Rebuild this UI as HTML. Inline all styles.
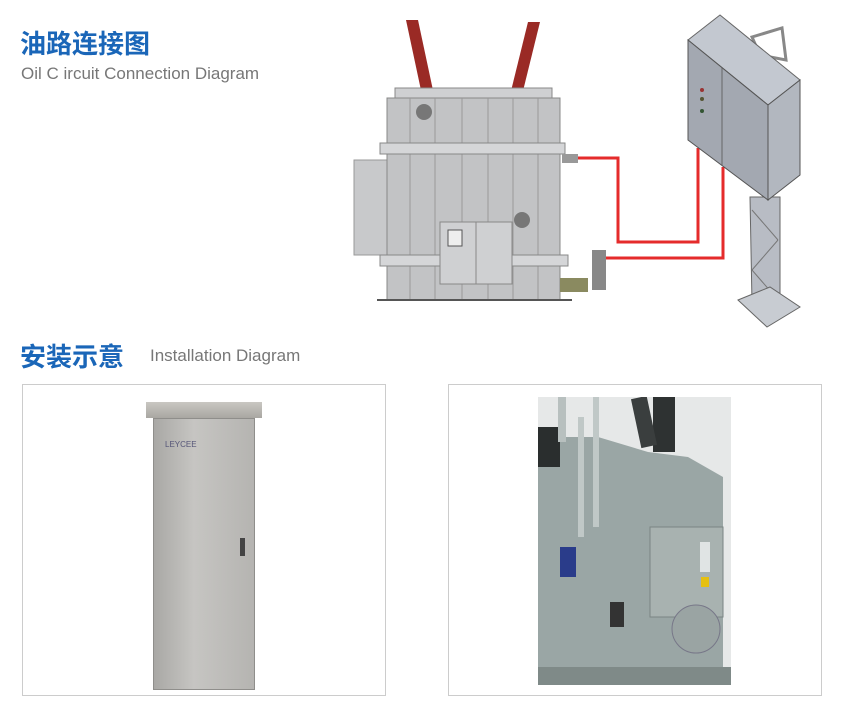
<!DOCTYPE html>
<html><head><meta charset="utf-8"><style>
body{margin:0;width:850px;height:717px;background:#fff;position:relative;overflow:hidden;font-family:"Liberation Sans","Noto Sans CJK SC",sans-serif}
.a{position:absolute}
</style></head><body>
<div class="a" style="left:20px;top:24px;font-size:26px;font-weight:bold;color:#1a66b8">油路连接图</div>
<div class="a" style="left:21px;top:64px;font-size:17px;color:#777">Oil C ircuit Connection Diagram</div>
<div class="a" style="left:20px;top:337px;font-size:26px;font-weight:bold;color:#1a66b8">安装示意</div>
<div class="a" style="left:150px;top:346px;font-size:17px;color:#777">Installation Diagram</div>

<svg class="a" style="left:0;top:0" width="850" height="380">
 <polygon points="406,20 418,20 434,95 422,95" fill="#9a2a25"/>
 <polygon points="528,22 540,22 522,95 510,95" fill="#9a2a25"/>
 <rect x="354" y="160" width="34" height="95" fill="#c8c9cb" stroke="#999"/>
 <rect x="395" y="88" width="157" height="12" fill="#cfd0d2" stroke="#888"/>
 <rect x="387" y="98" width="173" height="202" fill="#c2c3c5" stroke="#888"/>
 <g stroke="#999"><line x1="410" y1="98" x2="410" y2="300"/><line x1="435" y1="98" x2="435" y2="300"/><line x1="462" y1="98" x2="462" y2="300"/><line x1="488" y1="98" x2="488" y2="300"/><line x1="513" y1="98" x2="513" y2="300"/><line x1="538" y1="98" x2="538" y2="300"/></g>
 <rect x="380" y="143" width="185" height="11" fill="#d5d6d8" stroke="#888"/>
 <rect x="380" y="255" width="188" height="11" fill="#d5d6d8" stroke="#888"/>
 <rect x="440" y="222" width="72" height="62" fill="#cfd0d2" stroke="#888"/>
 <line x1="476" y1="222" x2="476" y2="284" stroke="#888"/>
 <rect x="448" y="230" width="14" height="16" fill="#eee" stroke="#555"/>
 <circle cx="424" cy="112" r="8" fill="#777"/><circle cx="522" cy="220" r="8" fill="#777"/>
 <line x1="377" y1="300" x2="572" y2="300" stroke="#555" stroke-width="2"/>
 <rect x="562" y="154" width="16" height="9" fill="#999"/>
 <rect x="560" y="278" width="28" height="14" fill="#8a8a60"/>
 <rect x="592" y="250" width="14" height="40" fill="#888"/>
 <polyline points="578,158 618,158 618,242 698,242 698,148" fill="none" stroke="#e52b2b" stroke-width="3"/>
 <polyline points="606,258 723,258 723,167" fill="none" stroke="#e52b2b" stroke-width="3"/>
 <polygon points="752,37 782,28 786,60 760,55" fill="none" stroke="#888" stroke-width="3"/>
 <polygon points="750,197 780,197 780,303 752,303" fill="#b8bcc4" stroke="#666"/>
 <g stroke="#777"><line x1="752" y1="210" x2="778" y2="240"/><line x1="778" y1="240" x2="752" y2="270"/><line x1="752" y1="270" x2="778" y2="300"/></g>
 <polygon points="738,300 770,287 800,307 767,327" fill="#c8ccd2" stroke="#666"/>
 <polygon points="688,40 720,15 800,80 768,105" fill="#c3c8d0" stroke="#666"/>
 <polygon points="688,40 768,105 768,200 688,140" fill="#a3a8b1" stroke="#555"/>
 <line x1="722" y1="68" x2="722" y2="165" stroke="#666"/>
 <polygon points="768,105 800,80 800,175 768,200" fill="#b2b7bf" stroke="#555"/>
 <circle cx="702" cy="90" r="2" fill="#933"/><circle cx="702" cy="99" r="2" fill="#553"/><circle cx="702" cy="111" r="2" fill="#353"/>
</svg>

<div class="a" style="left:22px;top:384px;width:364px;height:312px;border:1px solid #ccc;box-sizing:border-box"></div>
<div class="a" style="left:448px;top:384px;width:374px;height:312px;border:1px solid #ccc;box-sizing:border-box"></div>
<div class="a" style="left:146px;top:402px;width:116px;height:16px;background:linear-gradient(#c9c7c2,#a9a7a2)"></div>
<div class="a" style="left:153px;top:418px;width:102px;height:272px;background:linear-gradient(90deg,#a9a8a5,#c6c5c2 40%,#b5b4b1);border:1px solid #8f8e8b;box-sizing:border-box"></div>
<div class="a" style="left:165px;top:440px;font-size:8px;color:#557">LEYCEE</div>
<div class="a" style="left:240px;top:538px;width:5px;height:18px;background:#444"></div>
<svg class="a" style="left:538px;top:397px" width="193" height="288">
 <rect width="193" height="288" fill="#e6e8e8"/>
 <polygon points="0,40 60,40 110,55 150,60 185,80 185,270 0,288" fill="#9aa6a5"/>
 <rect x="0" y="270" width="193" height="18" fill="#7f8a88"/>
 <rect x="115" y="0" width="22" height="55" fill="#2e3232"/>
 <rect x="98" y="0" width="16" height="50" fill="#3a3e3e" transform="rotate(-12 106 25)"/>
 <rect x="0" y="30" width="22" height="40" fill="#2a2e2e"/>
 <rect x="20" y="0" width="8" height="45" fill="#b8c0bf"/>
 <rect x="40" y="20" width="6" height="120" fill="#c0c8c7"/>
 <rect x="55" y="0" width="6" height="130" fill="#c0c8c7"/>
 <rect x="112" y="130" width="73" height="90" fill="#a8b2b0" stroke="#7a8483"/>
 <rect x="162" y="145" width="10" height="30" fill="#e0e4e4"/>
 <rect x="163" y="180" width="8" height="10" fill="#e6c010"/>
 <rect x="22" y="150" width="16" height="30" fill="#2a3c8a"/>
 <circle cx="158" cy="232" r="24" fill="#9aa4a3" stroke="#778"/>
 <rect x="72" y="205" width="14" height="25" fill="#333"/>
</svg>
</body></html>
